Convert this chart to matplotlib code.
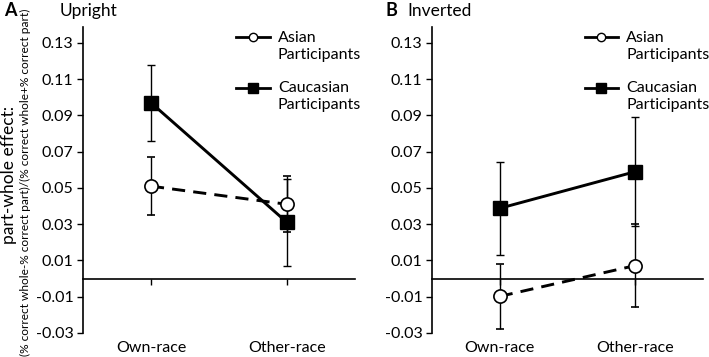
import matplotlib
matplotlib.use("Agg")
import matplotlib.pyplot as plt
from matplotlib.lines import Line2D
import numpy as np

plt.rcParams["font.family"] = ["Lato", "DejaVu Sans"]

categories = ["Own-race", "Other-race"]

# panel A: upright
up_asian = [0.051, 0.041]
up_asian_err = [0.016, 0.0155]
up_cauc = [0.097, 0.031]
up_cauc_err = [0.021, 0.024]

# panel B: inverted
inv_asian = [-0.0098, 0.0072]
inv_asian_err = [0.018, 0.023]
inv_cauc = [0.0388, 0.059]
inv_cauc_err = [0.0255, 0.030]

yticks = [-0.03, -0.01, 0.01, 0.03, 0.05, 0.07, 0.09, 0.11, 0.13]

W, H = 709, 357
fig = plt.figure(figsize=(W / 100, H / 100), dpi=100)


def px_axes(x0, x1, y0, y1):
    return fig.add_axes([x0 / W, 1 - y1 / H, (x1 - x0) / W, (y1 - y0) / H])


def draw_panel(ax, asian, asian_err, cauc, cauc_err):
    x = list(range(len(categories)))
    ax.errorbar(x, cauc, yerr=cauc_err, color="black", lw=2.1, marker="s",
                ms=9.5, mfc="black", mec="black", ecolor="black",
                elinewidth=1.0, capsize=3, capthick=1.0, zorder=3)
    ax.errorbar(x, asian, yerr=asian_err, color="black", lw=2.1, ls=(0, (4.5, 2.8)),
                marker="o", ms=9.5, mfc="white", mec="black", mew=1.2,
                ecolor="black", elinewidth=1.0, capsize=3, capthick=1.0, zorder=4)
    ax.set_xlim(-0.5, 1.5)
    ax.set_ylim(-0.03, 0.1388)
    ax.set_yticks(yticks)
    ax.set_yticklabels([f"{v:.2f}" for v in yticks], fontsize=11.5)
    ax.tick_params(axis="y", direction="out", length=4, width=1.0, pad=3)
    for s in ["top", "right"]:
        ax.spines[s].set_visible(False)
    ax.spines["left"].set_linewidth(1.2)
    ax.spines["bottom"].set_position(("data", 0))
    ax.spines["bottom"].set_linewidth(1.2)
    ax.set_xticks(x)
    ax.set_xticklabels([])
    ax.tick_params(axis="x", direction="out", length=4, width=1.0)
    for i, c in enumerate(categories):
        ax.annotate(c, xy=(i, 0), xycoords=("data", "axes fraction"),
                    xytext=(0, -11), textcoords="offset points",
                    ha="center", va="center", fontsize=11.5)
    handles = [
        Line2D([], [], color="black", lw=2.0, marker="o", ms=6, mfc="white",
               mec="black", mew=1.0),
        Line2D([], [], color="black", lw=2.0, marker="s", ms=7, mfc="black"),
    ]
    leg = ax.legend(handles, ["Asian\nParticipants", "Caucasian\nParticipants"],
                    loc="upper left", bbox_to_anchor=(0.54, 1.008), frameon=False,
                    fontsize=11.5, handlelength=2.1, handletextpad=0.5,
                    labelspacing=1.23, borderaxespad=0)
    for t in leg.get_texts():
        t.set_linespacing(1.25)
    # put the handle next to the first line of each label
    for h in leg.legend_handles:
        h.set_ydata(np.asarray(h.get_ydata()) + 6.3)


axA = px_axes(83, 355, 27, 333)
draw_panel(axA, up_asian, up_asian_err, up_cauc, up_cauc_err)
axB = px_axes(432, 703, 27, 333)
draw_panel(axB, inv_asian, inv_asian_err, inv_cauc, inv_cauc_err)

fig.text(4 / W, 1 - 11 / H, "A", fontsize=13, fontweight="bold", va="center", ha="left")
fig.text(60 / W, 1 - 11 / H, "Upright", fontsize=12.5, va="center", ha="left")
fig.text(385 / W, 1 - 11 / H, "B", fontsize=13, fontweight="bold", va="center", ha="left")
fig.text(407 / W, 1 - 11 / H, "Inverted", fontsize=12.5, va="center", ha="left")

fig.text(9 / W, 1 - 175 / H, "part-whole effect:", rotation=90, fontsize=12.5,
         va="center", ha="center")
fig.text(25 / W, 1 - 182 / H,
         "(% correct whole-% correct part)/(% correct whole+% correct part)",
         rotation=90, fontsize=8.6, va="center", ha="center")

fig.savefig("out.png", dpi=100)
